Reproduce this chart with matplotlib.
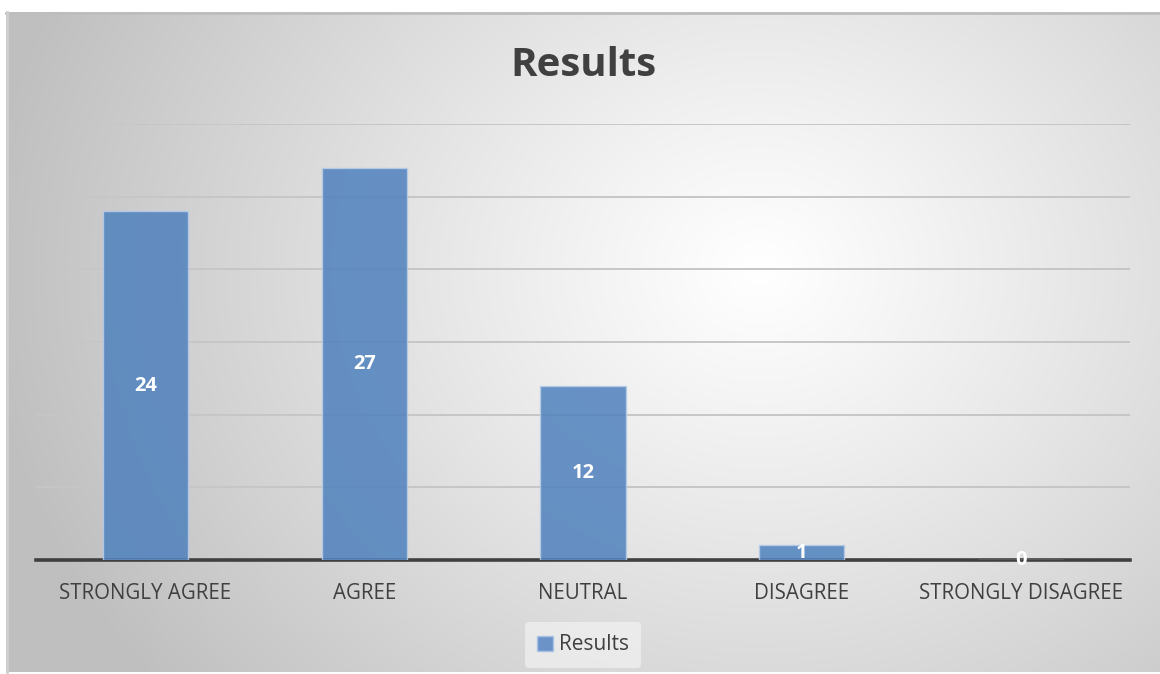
import numpy as np
import matplotlib
matplotlib.use("Agg")
import matplotlib.pyplot as plt
from matplotlib.patches import Rectangle

categories = ["STRONGLY AGREE", "AGREE", "NEUTRAL", "DISAGREE", "STRONGLY DISAGREE"]
values = [24, 27, 12, 1, 0]
series_name = "Results"
title = "Results"

W, H = 1160, 674
fig = plt.figure(figsize=(W / 100, H / 100), dpi=100)
fig.patch.set_facecolor("white")

# chart area background with radial gradient
cx0, cy0, cx1, cy1 = 6, 12, 1160, 672  # pixel coords (top-left origin)
bg = fig.add_axes([cx0 / W, 1 - cy1 / H, (cx1 - cx0) / W, (cy1 - cy0) / H])
bg.set_axis_off()
xs = np.linspace(cx0, cx1, 400)
ys = np.linspace(cy0, cy1, 240)
X, Y = np.meshgrid(xs, ys)
r = np.sqrt(((X - 760) / 1.0) ** 2 + ((Y - 270) / 0.85) ** 2)
v = 1 - 0.25 * np.clip(r / 780, 0, 1) ** 1.1
img = np.dstack([v, v, v])
bg.imshow(img, extent=[0, 1, 0, 1], aspect="auto", origin="upper")
bg.set_xlim(0, 1)
bg.set_ylim(0, 1)
# border lines
bg.plot([0, 1], [0.998, 0.998], color="#bdbdbd", lw=2, transform=bg.transAxes, clip_on=False)
bg.plot([0.001, 0.001], [0, 1], color="#cfcfcf", lw=2, transform=bg.transAxes, clip_on=False)

# main axes
ax_l, ax_r, ax_t, ax_b = 36, 1130, 124, 560
ax = fig.add_axes([ax_l / W, 1 - ax_b / H, (ax_r - ax_l) / W, (ax_b - ax_t) / H])
ax.set_facecolor("none")
x = np.arange(len(categories))
ax.set_xlim(-0.5, len(categories) - 0.5)
ax.set_ylim(0, 30)
ax.set_yticks(np.arange(5, 31, 5))
ax.grid(axis="y", color="#c6c6c6", lw=1.4, zorder=0)
ax.set_axisbelow(True)
for s in ["top", "right", "left"]:
    ax.spines[s].set_visible(False)
ax.spines["bottom"].set_color("#404040")
ax.spines["bottom"].set_linewidth(2.6)
ax.spines["bottom"].set_zorder(1)
ax.tick_params(axis="y", left=False, labelleft=False)
ax.tick_params(axis="x", bottom=False, pad=13)
ax.set_xticks(x)
ax.set_xticklabels(categories, fontsize=14.8, color="#404040", family="Open Sans")

bars = ax.bar(x, values, width=0.39, color="#4f81bd", alpha=0.85,
              edgecolor="#b7cde8", linewidth=1, zorder=2, label=series_name)
for xi, val in zip(x, values):
    ax.text(xi, val / 2, str(val), ha="center", va="center", color="white",
            fontsize=14.5, fontweight="bold", family="Open Sans", zorder=5)

fig.text(583 / W, 1 - 65 / H, title, ha="center", va="center", fontsize=29,
         fontweight="bold", color="#404040", family="Open Sans")

leg = fig.legend(handles=[Rectangle((0, 0), 1, 1, facecolor="#6b93c8", edgecolor="#a9c3e6")],
                 labels=[series_name], loc="center", bbox_to_anchor=(583 / W, 1 - 645 / H),
                 frameon=True, handlelength=0.75, handleheight=0.75,
                 handletextpad=0.3, borderpad=0.6, prop={"family": "Open Sans", "size": 15})
leg.get_frame().set_facecolor("#f6f6f6")
leg.get_frame().set_edgecolor("none")
leg.get_frame().set_alpha(0.6)
for t in leg.get_texts():
    t.set_color("#404040")

fig.savefig("out.png", dpi=100)
